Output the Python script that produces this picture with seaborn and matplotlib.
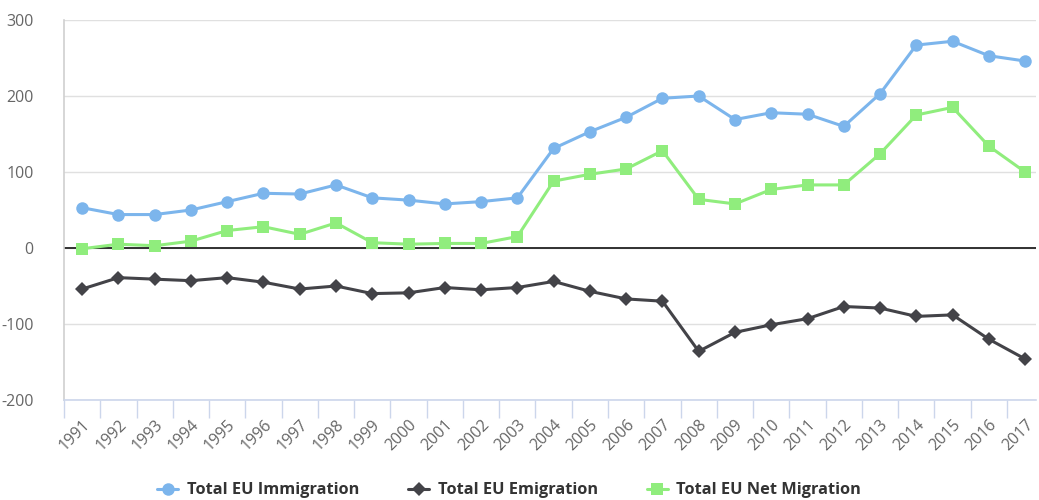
import numpy as np
import pandas as pd
import matplotlib
matplotlib.use("Agg")
import matplotlib.pyplot as plt
from matplotlib.lines import Line2D
import seaborn as sns

years = list(range(1991, 2018))
immigration = [53, 44, 44, 50, 61, 72, 71, 83, 66, 63, 58, 61, 66, 131, 153, 172,
               197, 200, 169, 178, 176, 160, 203, 267, 272, 253, 246]
emigration = [-54, -39, -41, -43, -39, -45, -54, -50, -60, -59, -52, -55, -52, -44,
              -57, -67, -70, -136, -111, -101, -93, -77, -79, -90, -88, -120, -146]
net_migration = [-1, 5, 3, 9, 23, 28, 18, 33, 7, 5, 6, 6, 15, 88, 97, 104,
                 128, 64, 58, 77, 83, 83, 124, 175, 185, 134, 100]
y_ticks = [-200, -100, 0, 100, 200, 300]

series_names = ["Total EU Immigration", "Total EU Emigration", "Total EU Net Migration"]
colors = ["#7cb5ec", "#434348", "#90ed7d"]
markers = ["o", "D", "s"]
msizes = [9, 7, 9]

df = pd.DataFrame({"pos": np.arange(len(years)),
                   series_names[0]: immigration,
                   series_names[1]: emigration,
                   series_names[2]: net_migration})
long = df.melt(id_vars="pos", var_name="series", value_name="value")

sns.set_theme(style="white")
plt.rcParams['font.family'] = ['Open Sans', 'DejaVu Sans']

fig = plt.figure(figsize=(10.39, 5.0), dpi=100)
ax = fig.add_axes([64 / 1039, 100 / 500, (1036 - 64) / 1039, 380 / 500])

for name, c, m, ms in zip(series_names, colors, markers, msizes):
    sub = long[long["series"] == name]
    sns.lineplot(data=sub, x="pos", y="value", ax=ax, color=c, marker=m,
                 markersize=ms, markeredgewidth=0, linewidth=2.2, legend=False)

ax.set_xlim(-0.5, 26.3)
ax.set_ylim(-200, 300)
ax.set_yticks(y_ticks)
ax.set_yticklabels([str(v) for v in y_ticks], color="#666666", fontsize=11.5)
ax.yaxis.grid(True, color="#e0e0e0", linewidth=1)
ax.xaxis.grid(False)
ax.axhline(0, color="#222222", linewidth=1.3, zorder=1)

ax.set_xticks(np.arange(len(years)))
ax.set_xticklabels([str(y) for y in years], rotation=45, ha="right",
                   rotation_mode="anchor", color="#666666", fontsize=11.5)
ax.set_xticks(np.arange(len(years)) - 0.5, minor=True)
ax.tick_params(axis="x", which="major", length=0, pad=12)
ax.tick_params(axis="x", which="minor", length=13, width=1, color="#ccd6eb", bottom=True)
ax.tick_params(axis="y", length=0, pad=22)

for side in ["top", "right"]:
    ax.spines[side].set_visible(False)
ax.spines["bottom"].set_color("#ccd6eb")
ax.spines["bottom"].set_linewidth(1.2)
ax.spines["left"].set_color("#d0d0d0")
ax.spines["left"].set_linewidth(1.2)
ax.set_xlabel("")
ax.set_ylabel("")

handles = [Line2D([0], [0], color=c, marker=m, markersize=ms, markeredgewidth=0, linewidth=2.2)
           for c, m, ms in zip(colors, markers, msizes)]
leg = fig.legend(handles, series_names, loc="lower center", bbox_to_anchor=(0.49, -0.026),
                 ncol=3, frameon=False, handlelength=1.3, handletextpad=0.5, columnspacing=3.0,
                 prop={"family": "Open Sans", "weight": "bold", "size": 11.8})
for t in leg.get_texts():
    t.set_color("#333333")

fig.savefig("out.png", dpi=100)
